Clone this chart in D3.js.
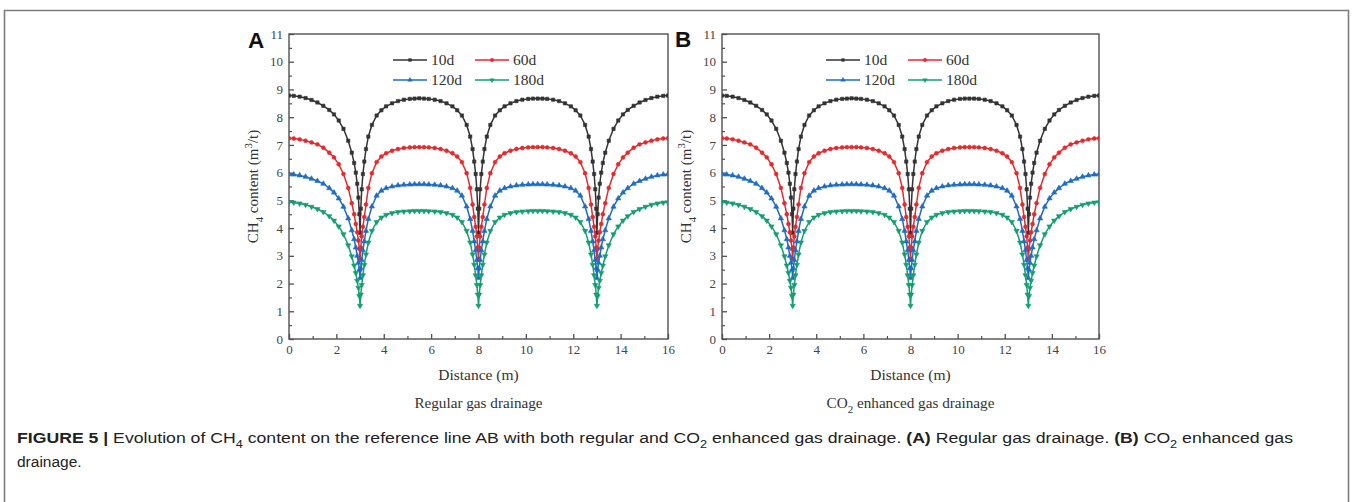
<!DOCTYPE html>
<html>
<head>
<meta charset="utf-8">
<script src="https://cdn.jsdelivr.net/npm/d3@7/dist/d3.min.js"></script>
<style>
  html, body { margin: 0; padding: 0; background: #fff; }
  svg { display: block; }
</style>
</head>
<body>
<svg id="chart" width="1352" height="502"></svg>
<script>
// ---------------- DATA ----------------
const distance = [
  0,0.2,0.45,0.7,0.95,1.2,1.45,1.7,1.9,2.1,2.3,2.5,2.65,2.75,2.82,2.88,2.93,2.97,3.0,
  3.03,3.07,3.12,3.18,3.25,3.35,3.5,3.7,3.9,4.1,4.35,4.6,4.85,5.1,5.3,5.5,5.7,5.9,6.15,6.4,6.65,6.9,7.1,7.3,7.5,7.65,7.75,7.82,7.88,7.93,7.97,8.0,
  8.03,8.07,8.12,8.18,8.25,8.35,8.5,8.7,8.9,9.1,9.35,9.6,9.85,10.1,10.3,10.5,10.7,10.9,11.15,11.4,11.65,11.9,12.1,12.3,12.5,12.65,12.75,12.82,12.88,12.93,12.97,13.0,
  13.03,13.07,13.12,13.18,13.25,13.35,13.5,13.7,13.9,14.1,14.3,14.55,14.8,15.05,15.3,15.55,15.8,16.0
];

const ch4_10d = [
  8.78,8.77,8.74,8.69,8.62,8.53,8.41,8.26,8.10,7.88,7.58,7.15,6.72,6.35,6.00,5.60,5.10,4.50,3.83,
  4.70,5.40,5.95,6.40,6.85,7.30,7.72,8.06,8.25,8.39,8.50,8.58,8.63,8.66,8.67,8.68,8.67,8.66,8.63,8.58,8.50,8.39,8.25,8.06,7.72,7.30,6.85,6.40,5.95,5.40,4.70,3.83,
  4.70,5.40,5.95,6.40,6.85,7.30,7.72,8.06,8.25,8.39,8.50,8.58,8.63,8.66,8.67,8.67,8.67,8.66,8.63,8.58,8.50,8.39,8.25,8.06,7.72,7.30,6.85,6.40,5.95,5.40,4.70,3.83,
  4.50,5.10,5.60,6.00,6.35,6.72,7.15,7.58,7.88,8.10,8.26,8.41,8.53,8.62,8.69,8.74,8.77,8.78
];

const ch4_60d = [
  7.24,7.23,7.20,7.15,7.09,7.02,6.90,6.72,6.55,6.30,5.95,5.45,4.90,4.50,4.15,3.85,3.55,3.25,2.90,
  3.30,3.70,4.05,4.40,4.85,5.45,5.98,6.38,6.58,6.70,6.79,6.85,6.89,6.91,6.92,6.92,6.92,6.91,6.89,6.85,6.79,6.70,6.58,6.38,5.98,5.45,4.85,4.40,4.05,3.70,3.30,2.90,
  3.30,3.70,4.05,4.40,4.85,5.45,5.98,6.38,6.58,6.70,6.79,6.85,6.89,6.91,6.92,6.92,6.92,6.91,6.89,6.85,6.79,6.70,6.58,6.38,5.98,5.45,4.85,4.40,4.05,3.70,3.30,2.90,
  3.25,3.55,3.85,4.15,4.50,4.90,5.45,5.95,6.30,6.55,6.72,6.90,7.02,7.09,7.15,7.20,7.23,7.24
];

const ch4_120d = [
  5.94,5.93,5.90,5.85,5.78,5.70,5.60,5.44,5.28,5.07,4.77,4.35,3.92,3.60,3.30,3.00,2.75,2.50,2.20,
  2.55,2.85,3.20,3.52,3.90,4.33,4.78,5.17,5.35,5.44,5.50,5.54,5.56,5.57,5.58,5.58,5.58,5.57,5.56,5.54,5.50,5.44,5.35,5.17,4.78,4.33,3.90,3.52,3.20,2.85,2.55,2.20,
  2.55,2.85,3.20,3.52,3.90,4.33,4.78,5.17,5.35,5.44,5.50,5.54,5.56,5.57,5.58,5.58,5.58,5.57,5.56,5.54,5.50,5.44,5.35,5.17,4.78,4.33,3.90,3.52,3.20,2.85,2.55,2.20,
  2.50,2.75,3.00,3.30,3.60,3.92,4.35,4.77,5.07,5.28,5.44,5.60,5.70,5.78,5.85,5.90,5.93,5.94
];

const ch4_180d = [
  4.93,4.92,4.89,4.84,4.77,4.69,4.58,4.43,4.27,4.06,3.78,3.38,2.98,2.65,2.38,2.10,1.85,1.55,1.20,
  1.60,1.95,2.30,2.68,3.05,3.48,3.90,4.22,4.38,4.48,4.54,4.58,4.60,4.61,4.62,4.62,4.62,4.61,4.60,4.58,4.54,4.48,4.38,4.22,3.90,3.48,3.05,2.68,2.30,1.95,1.60,1.20,
  1.60,1.95,2.30,2.68,3.05,3.48,3.90,4.22,4.38,4.48,4.54,4.58,4.60,4.61,4.62,4.62,4.62,4.61,4.60,4.58,4.54,4.48,4.38,4.22,3.90,3.48,3.05,2.68,2.30,1.95,1.60,1.20,
  1.55,1.85,2.10,2.38,2.65,2.98,3.38,3.78,4.06,4.27,4.43,4.58,4.69,4.77,4.84,4.89,4.92,4.93
];

const seriesNames = ["10d", "60d", "120d", "180d"];
const seriesValues = [ch4_10d, ch4_60d, ch4_120d, ch4_180d];

const xMajorTicks = [0, 2, 4, 6, 8, 10, 12, 14, 16];
const xMinorTicks = [1, 3, 5, 7, 9, 11, 13, 15];
const yMajorTicks = [0, 1, 2, 3, 4, 5, 6, 7, 8, 9, 10, 11];
const yMinorTicks = [0.5, 1.5, 2.5, 3.5, 4.5, 5.5, 6.5, 7.5, 8.5, 9.5, 10.5];

const panelLetters = ["A", "B"];
const panelSubtitles = [
  [{t: "Regular gas drainage"}],
  [{t: "CO"}, {t: "2", sub: true}, {t: " enhanced gas drainage"}]
];

// ---------------- STYLE / LAYOUT ----------------
const colors = ["#333333", "#e8292c", "#1f6cc4", "#139f70"];
const symbols = [d3.symbolSquare, d3.symbolCircle, d3.symbolTriangle, d3.symbolTriangle];
const symbolRot = [0, 0, 0, 180];
const symbolSize = [11, 12, 12, 12];
const serif = "'Liberation Serif', 'Times New Roman', serif";
const sans = "'Liberation Sans', Arial, Helvetica, sans-serif";

const panels = [
  {x0: 289, x1: 668, letterX: 248, letterY: 48},
  {x0: 722, x1: 1099, letterX: 675, letterY: 47}
];
const yTop = 34, yBot = 339;

const svg = d3.select("#chart");
svg.append("rect").attr("width", 1352).attr("height", 502).attr("fill", "#fff");

// outer figure frame
svg.append("path")
  .attr("d", "M4.5,502 V10.5 H1348.5 V502")
  .attr("fill", "none").attr("stroke", "#7d7d7d").attr("stroke-width", 1.6);

function richText(sel, parts, baseSize) {
  parts.forEach((p, i) => {
    const ts = sel.append("tspan").text(p.t);
    if (p.bold) ts.attr("font-weight", "bold");
    if (p.sub) { ts.attr("dy", baseSize * 0.3).attr("font-size", baseSize * 0.72); }
    else if (p.sup) { ts.attr("dy", -baseSize * 0.38).attr("font-size", baseSize * 0.72); }
    const prev = parts[i - 1];
    if (prev && !p.sub && !p.sup) {
      if (prev.sub) ts.attr("dy", -baseSize * 0.3);
      if (prev.sup) ts.attr("dy", baseSize * 0.38);
    }
  });
}

panels.forEach((P, pi) => {
  const x = d3.scaleLinear().domain([0, 16]).range([P.x0, P.x1]);
  const y = d3.scaleLinear().domain([0, 11]).range([yBot, yTop]);
  const g = svg.append("g");

  const clipId = "clip" + pi;
  svg.append("clipPath").attr("id", clipId).append("rect")
    .attr("x", P.x0).attr("y", yTop).attr("width", P.x1 - P.x0).attr("height", yBot - yTop);

  // frame
  g.append("rect")
    .attr("x", P.x0).attr("y", yTop).attr("width", P.x1 - P.x0).attr("height", yBot - yTop)
    .attr("fill", "none").attr("stroke", "#505050").attr("stroke-width", 1.4);

  // x axis
  const xAx = g.append("g").attr("transform", `translate(0,${yBot})`)
    .call(d3.axisBottom(x).tickValues(xMajorTicks).tickSizeInner(-5).tickSizeOuter(0).tickPadding(6).tickFormat(d3.format("d")));
  xAx.select(".domain").remove();
  xAx.selectAll("line").attr("stroke", "#505050").attr("stroke-width", 1.3);
  xAx.selectAll("text").attr("font-family", serif).attr("font-size", 13).attr("fill", "#444");
  const xMin = g.append("g").attr("transform", `translate(0,${yBot})`)
    .call(d3.axisBottom(x).tickValues(xMinorTicks).tickSizeInner(-3).tickSizeOuter(0).tickFormat(""));
  xMin.select(".domain").remove();
  xMin.selectAll("line").attr("stroke", "#505050").attr("stroke-width", 1.2);

  // y axis
  const yAx = g.append("g").attr("transform", `translate(${P.x0},0)`)
    .call(d3.axisLeft(y).tickValues(yMajorTicks).tickSizeInner(-5).tickSizeOuter(0).tickPadding(6).tickFormat(d3.format("d")));
  yAx.select(".domain").remove();
  yAx.selectAll("line").attr("stroke", "#505050").attr("stroke-width", 1.3);
  yAx.selectAll("text").attr("font-family", serif).attr("font-size", 13).attr("fill", "#444");
  const yMin = g.append("g").attr("transform", `translate(${P.x0},0)`)
    .call(d3.axisLeft(y).tickValues(yMinorTicks).tickSizeInner(-3).tickSizeOuter(0).tickFormat(""));
  yMin.select(".domain").remove();
  yMin.selectAll("line").attr("stroke", "#505050").attr("stroke-width", 1.2);

  // series
  const line = d3.line().x((d, i) => x(distance[i])).y(d => y(d));
  const dg = g.append("g").attr("clip-path", `url(#${clipId})`);
  seriesValues.forEach((vals, si) => {
    dg.append("path").datum(vals).attr("d", line)
      .attr("fill", "none").attr("stroke", colors[si]).attr("stroke-width", 1.5).attr("stroke-linejoin", "round");
    const sym = d3.symbol().type(symbols[si]).size(symbolSize[si]);
    dg.append("g").selectAll("path").data(vals).join("path")
      .attr("d", sym)
      .attr("transform", (d, i) => `translate(${x(distance[i])},${y(d)}) rotate(${symbolRot[si]})`)
      .attr("fill", colors[si]).attr("stroke", colors[si]).attr("stroke-width", 0.6);
  });

  // legend
  const legendPos = [[393, 60], [475, 60], [393, 80], [475, 80]];
  seriesNames.forEach((name, si) => {
    const lx = legendPos[si][0] + (P.x0 - panels[0].x0);
    const ly = legendPos[si][1];
    g.append("line").attr("x1", lx).attr("x2", lx + 34).attr("y1", ly).attr("y2", ly)
      .attr("stroke", colors[si]).attr("stroke-width", 1.6);
    g.append("path").attr("d", d3.symbol().type(symbols[si]).size(symbolSize[si])())
      .attr("transform", `translate(${lx + 17},${ly}) rotate(${symbolRot[si]})`)
      .attr("fill", colors[si]);
    g.append("text").attr("x", lx + 38).attr("y", ly + 5)
      .attr("font-family", serif).attr("font-size", 15.5).attr("fill", "#333").text(name);
  });

  // axis titles
  const cx = (P.x0 + P.x1) / 2;
  g.append("text").attr("x", cx).attr("y", 380).attr("text-anchor", "middle")
    .attr("font-family", serif).attr("font-size", 15.5).attr("fill", "#333").text("Distance (m)");

  const yt = g.append("text").attr("transform", `translate(${P.x0 - 31},${(yTop + yBot) / 2}) rotate(-90)`)
    .attr("text-anchor", "middle").attr("font-family", serif).attr("font-size", 15).attr("fill", "#333");
  richText(yt, [{t: "CH"}, {t: "4", sub: true}, {t: " content (m"}, {t: "3", sup: true}, {t: "/t)"}], 15);

  // subtitle
  const st = g.append("text").attr("x", cx).attr("y", 408).attr("text-anchor", "middle")
    .attr("font-family", serif).attr("font-size", 15.2).attr("fill", "#333");
  richText(st, panelSubtitles[pi], 15.2);

  // panel letter
  g.append("text").attr("x", P.letterX).attr("y", P.letterY)
    .attr("font-family", sans).attr("font-weight", "bold").attr("font-size", 22.5).attr("fill", "#111")
    .text(panelLetters[pi]);
});

// caption
const cap1 = svg.append("text").attr("x", 17).attr("y", 443)
  .attr("font-family", sans).attr("font-size", 15.5).attr("fill", "#222");
richText(cap1, [
  {t: "FIGURE 5 | ", bold: true},
  {t: "Evolution of CH"}, {t: "4", sub: true},
  {t: " content on the reference line AB with both regular and CO"}, {t: "2", sub: true},
  {t: " enhanced gas drainage. "},
  {t: "(A)", bold: true}, {t: " Regular gas drainage. "},
  {t: "(B)", bold: true}, {t: " CO"}, {t: "2", sub: true}, {t: " enhanced gas"}
], 15.5);
cap1.attr("textLength", 1276).attr("lengthAdjust", "spacingAndGlyphs");

svg.append("text").attr("x", 17).attr("y", 467)
  .attr("font-family", sans).attr("font-size", 15.5).attr("fill", "#222").text("drainage.");
</script>
</body>
</html>
